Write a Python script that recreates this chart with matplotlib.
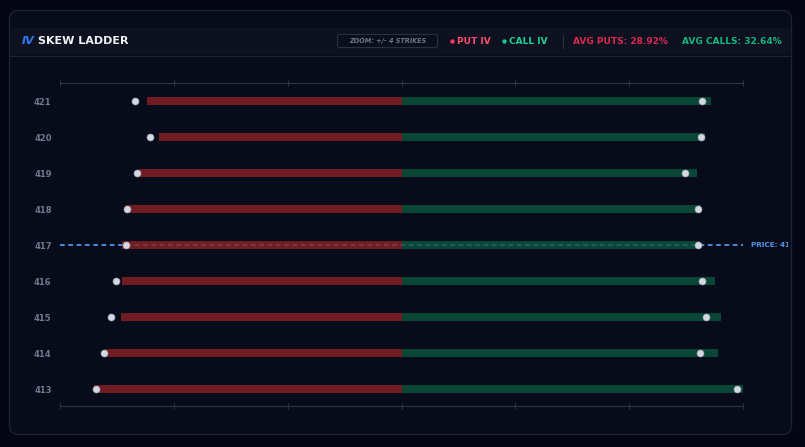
import numpy as np
import matplotlib
matplotlib.use("Agg")
import matplotlib.pyplot as plt
from matplotlib.patches import FancyBboxPatch, Rectangle

# strikes, top to bottom as drawn
strikes = [421, 420, 419, 418, 417, 416, 415, 414, 413]
put_iv = [26.7, 25.5, 27.6, 29.0, 29.3, 29.3, 29.5, 31.1, 32.28]
call_iv = [32.5, 31.9, 31.0, 31.5, 31.35, 32.9, 33.5, 33.25, 35.86]
put_mark = [27.95, 26.44, 27.77, 28.85, 28.9, 29.98, 30.47, 31.21, 32.05]
call_mark = [31.52, 31.48, 29.77, 31.16, 31.16, 31.55, 31.97, 31.37, 35.26]
spot_strike = 417
spot_label = "PRICE: 416.85"
zoom_label = "ZOOM: +/- 4 STRIKES"

BG = "#040713"
PANEL = "#080c1a"
HEADER = "#0d1120"
BORDER = "#1c2334"
PUT_C = "#8a2226"
CALL_C = "#0b553c"
DOT_C = "#d3d8e1"
BLUE = "#4f95ee"
GRID_C = "#2b3344"
LABEL_C = "#6f7a8e"

W, H = 805, 447
fig = plt.figure(figsize=(W / 100, H / 100), dpi=100, facecolor=BG)

# background / panel layer in pixel coordinates
bg = fig.add_axes([0, 0, 1, 1])
bg.set_xlim(0, W)
bg.set_ylim(H, 0)
bg.axis("off")
bg.add_patch(FancyBboxPatch((9.5, 10.5), 782, 424, boxstyle="round,pad=0,rounding_size=9",
                            facecolor=PANEL, edgecolor=BORDER, linewidth=0.9))
bg.add_patch(Rectangle((10, 28), 781, 27, facecolor=HEADER, edgecolor="none"))
bg.plot([10, 791], [55.5, 55.5], color=BORDER, lw=0.8)

# header
bg.text(22, 41.5, "IV", color="#2f7cf6", fontsize=8, fontweight="bold", style="italic",
        va="center", ha="left")
bg.text(38, 41.5, "SKEW LADDER", color="#eef1f6", fontsize=8, fontweight="heavy",
        va="center", ha="left")
bg.add_patch(FancyBboxPatch((337.5, 34.5), 100, 13, boxstyle="round,pad=0,rounding_size=2",
                            facecolor="#0b0f1c", edgecolor="#283041", linewidth=0.8))
bg.text(387.5, 41.2, zoom_label, color="#6c7689", fontsize=4.7, style="italic",
        fontweight="bold", va="center", ha="center")
bg.scatter([452], [41.2], s=10, color="#ff3b5f", linewidths=0)
bg.text(457, 41.5, "PUT IV", color="#ff4d6d", fontsize=6.5, fontweight="bold", va="center")
bg.scatter([504], [41.2], s=10, color="#17c98c", linewidths=0)
bg.text(509, 41.5, "CALL IV", color="#1fd394", fontsize=6.5, fontweight="bold", va="center")
bg.plot([563, 563], [35, 48], color="#283041", lw=0.8)
avg_put = np.mean(put_iv)
avg_call = np.mean(call_iv)
bg.text(573, 41.5, f"AVG PUTS: {avg_put:.2f}%", color="#d92a50", fontsize=6.5,
        fontweight="bold", va="center")
bg.text(782, 41.5, f"AVG CALLS: {avg_call:.2f}%", color="#14b67e", fontsize=6.5,
        fontweight="bold", va="center", ha="right")

# ladder axes
x0, x1 = 60, 743
y_top, y_bot = 83, 406
ax = fig.add_axes([x0 / W, (H - y_bot) / H, (x1 - x0) / W, (y_bot - y_top) / H])
ax.set_facecolor("none")

n = len(strikes)
ypos = np.arange(n)[::-1]  # 421 at top
lim = max(max(put_iv), max(call_iv))
ax.set_xlim(-lim, lim)
ax.set_ylim(-0.47, n - 0.5)

spot_y = ypos[strikes.index(spot_strike)]
ax.plot([-lim, lim], [spot_y, spot_y], color=BLUE, lw=1.3, ls=(0, (2.6, 2.0)), zorder=1,
        clip_on=False)

ax.barh(ypos, [-v for v in put_iv], height=0.22, color=PUT_C, alpha=0.8, zorder=2)
ax.barh(ypos, call_iv, height=0.22, color=CALL_C, alpha=0.8, zorder=2)
ax.scatter([-v for v in put_mark], ypos, s=26, color=DOT_C, edgecolors="#8e96a4",
           linewidths=0.4, zorder=4)
ax.scatter(call_mark, ypos, s=26, color=DOT_C, edgecolors="#8e96a4",
           linewidths=0.4, zorder=4)

price_txt = bg.text(751, 245, spot_label, color=BLUE, fontsize=5.2, fontweight="bold",
                    va="center", ha="left")
price_txt.set_clip_path(Rectangle((0, 0), 788, H, transform=bg.transData))
price_txt.set_clip_on(True)

ax.set_yticks(ypos)
ax.set_yticklabels([str(s) for s in strikes], color=LABEL_C, fontsize=6, fontweight="bold")
ax.tick_params(axis="y", length=0, pad=6)
ax.set_xticks(np.linspace(-lim, lim, 7))
ax.tick_params(axis="x", which="both", direction="inout", length=4, width=0.8,
               color=GRID_C, labelbottom=False, top=True, bottom=True)
for side in ["left", "right"]:
    ax.spines[side].set_visible(False)
for side in ["top", "bottom"]:
    ax.spines[side].set_color(GRID_C)
    ax.spines[side].set_linewidth(0.8)

fig.savefig("out.png", dpi=100, facecolor=BG)
